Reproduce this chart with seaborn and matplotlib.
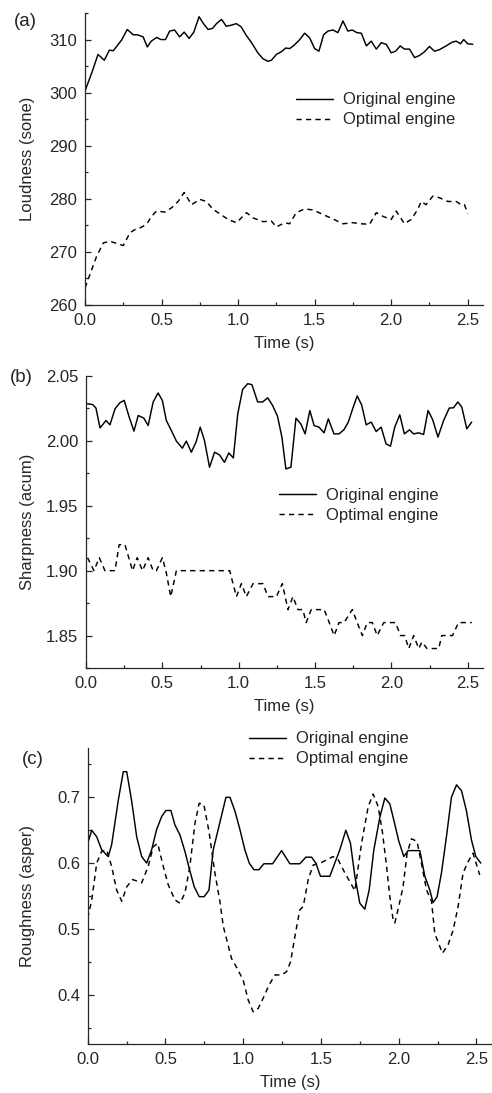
import numpy as np
import pandas as pd
import matplotlib
matplotlib.use("Agg")
import matplotlib.pyplot as plt
from matplotlib.ticker import MultipleLocator, FormatStrFormatter
import seaborn as sns

# ---------------- data ----------------
t_a_orig = [0.0, 0.05, 0.085, 0.126, 0.159, 0.185, 0.239, 0.276, 0.315, 0.343, 0.38, 0.407, 0.433, 0.468,
            0.496, 0.526, 0.553, 0.585, 0.618, 0.648, 0.68, 0.711, 0.745, 0.774, 0.804, 0.833, 0.859, 0.892,
            0.923, 0.955, 0.988, 1.02, 1.053, 1.086, 1.129, 1.162, 1.195, 1.218, 1.25, 1.283, 1.311, 1.337,
            1.365, 1.4, 1.435, 1.468, 1.5, 1.528, 1.559, 1.587, 1.62, 1.652, 1.685, 1.717, 1.746, 1.776,
            1.805, 1.838, 1.87, 1.903, 1.935, 1.968, 2.0, 2.029, 2.059, 2.087, 2.12, 2.153, 2.185, 2.218,
            2.25, 2.283, 2.316, 2.359, 2.398, 2.425, 2.453, 2.474, 2.5, 2.533]
loud_orig = [300.3, 304.2, 307.2, 306.1, 308.0, 307.9, 309.9, 311.9, 310.9, 310.9, 310.5, 308.6, 309.7, 310.4,
             310.0, 310.0, 311.6, 311.8, 310.5, 311.4, 310.2, 311.4, 314.3, 313.0, 311.9, 312.1, 313.0, 313.8,
             312.5, 312.7, 313.0, 312.4, 310.8, 309.5, 307.5, 306.4, 305.9, 306.1, 307.2, 307.7, 308.4, 308.3,
             308.9, 309.9, 311.2, 310.3, 308.3, 307.8, 310.9, 311.6, 311.8, 311.3, 313.5, 311.6, 311.8, 311.3,
             311.2, 308.8, 309.7, 308.2, 309.4, 309.1, 307.5, 307.8, 308.8, 308.2, 308.2, 306.6, 307.0, 307.7,
             308.7, 307.8, 308.1, 308.8, 309.5, 309.7, 309.2, 310.0, 309.2, 309.1]

t_a_opt = [0.0, 0.033, 0.076, 0.12, 0.163, 0.207, 0.25, 0.294, 0.326, 0.359, 0.402, 0.435, 0.467, 0.522,
           0.565, 0.608, 0.648, 0.696, 0.75, 0.793, 0.837, 0.88, 0.935, 0.99, 1.055, 1.098, 1.163, 1.218,
           1.25, 1.305, 1.337, 1.38, 1.435, 1.49, 1.543, 1.62, 1.685, 1.75, 1.805, 1.859, 1.903, 1.946,
           2.0, 2.033, 2.087, 2.13, 2.174, 2.196, 2.228, 2.272, 2.316, 2.37, 2.425, 2.457, 2.479, 2.5]
loud_opt = [263.2, 265.8, 269.2, 271.7, 272.0, 271.6, 271.2, 273.6, 274.2, 274.5, 275.2, 276.7, 277.7, 277.5,
            278.3, 279.5, 281.2, 278.9, 279.9, 279.5, 278.0, 277.2, 276.1, 275.5, 277.4, 276.4, 275.7, 275.8,
            274.7, 275.5, 275.3, 277.4, 278.1, 277.9, 277.2, 276.2, 275.3, 275.5, 275.3, 275.2, 277.4, 276.7,
            276.1, 277.7, 275.3, 276.1, 278.0, 279.5, 278.9, 280.5, 280.2, 279.5, 279.5, 278.9, 278.9, 277.2]

t_b_orig = [0.009, 0.044, 0.065, 0.092, 0.131, 0.157, 0.19, 0.222, 0.25, 0.283, 0.314, 0.342, 0.379, 0.407,
            0.44, 0.472, 0.5, 0.526, 0.559, 0.592, 0.631, 0.657, 0.69, 0.722, 0.748, 0.776, 0.809, 0.842,
            0.874, 0.907, 0.935, 0.965, 0.994, 1.026, 1.059, 1.087, 1.124, 1.157, 1.19, 1.222, 1.254, 1.283,
            1.309, 1.342, 1.375, 1.407, 1.435, 1.466, 1.494, 1.526, 1.559, 1.587, 1.624, 1.657, 1.69, 1.718,
            1.748, 1.776, 1.805, 1.835, 1.868, 1.9, 1.933, 1.965, 1.994, 2.022, 2.055, 2.085, 2.118, 2.146,
            2.179, 2.211, 2.24, 2.27, 2.305, 2.342, 2.379, 2.407, 2.435, 2.461, 2.494, 2.526]
sharp_orig = [2.0286, 2.028, 2.0253, 2.010, 2.0157, 2.0124, 2.0247, 2.0294, 2.0312, 2.0183, 2.0075, 2.0196,
              2.0175, 2.0118, 2.030, 2.0369, 2.0312, 2.0157, 2.008, 1.9998, 1.9944, 1.9998, 1.9913, 1.9995,
              2.0106, 2.0002, 1.9797, 1.9913, 1.9892, 1.9835, 1.9907, 1.9869, 2.0209, 2.0397, 2.0441, 2.0433,
              2.030, 2.030, 2.0332, 2.0273, 2.0191, 2.0029, 1.9784, 1.9797, 2.0175, 2.0131, 2.0054, 2.0234,
              2.0118, 2.0106, 2.0062, 2.017, 2.0054, 2.0054, 2.0087, 2.0145, 2.0253, 2.0346, 2.0278, 2.0124,
              2.0145, 2.0072, 2.0106, 1.9977, 1.9959, 2.0106, 2.0201, 2.0054, 2.0085, 2.0054, 2.0062, 2.0049,
              2.0234, 2.0165, 2.0029, 2.0157, 2.0253, 2.0255, 2.030, 2.0261, 2.0093, 2.0145]

t_b_opt = [0.01, 0.052, 0.087, 0.124, 0.19, 0.217, 0.255, 0.305, 0.335, 0.37, 0.407, 0.44, 0.461, 0.5,
           0.523, 0.555, 0.592, 0.941, 0.985, 1.018, 1.05, 1.094, 1.159, 1.192, 1.247, 1.286, 1.323, 1.355,
           1.388, 1.42, 1.442, 1.475, 1.56, 1.593, 1.625, 1.657, 1.69, 1.744, 1.776, 1.81, 1.842, 1.875,
           1.907, 1.95, 1.983, 2.027, 2.06, 2.087, 2.114, 2.146, 2.179, 2.2, 2.233, 2.266, 2.31, 2.33,
           2.4, 2.44, 2.526]
sharp_opt = [1.91, 1.90, 1.91, 1.90, 1.90, 1.92, 1.92, 1.90, 1.91, 1.90, 1.91, 1.90, 1.90, 1.91,
             1.90, 1.88, 1.90, 1.90, 1.88, 1.89, 1.88, 1.89, 1.89, 1.88, 1.88, 1.89, 1.87, 1.88,
             1.87, 1.87, 1.86, 1.87, 1.87, 1.86, 1.85, 1.86, 1.86, 1.87, 1.86, 1.85, 1.86, 1.86,
             1.85, 1.86, 1.86, 1.86, 1.85, 1.85, 1.84, 1.85, 1.84, 1.845, 1.84, 1.84, 1.84, 1.85,
             1.85, 1.86, 1.86]

t_c_orig = [0.0, 0.026, 0.058, 0.09, 0.132, 0.154, 0.197, 0.229, 0.251, 0.283, 0.315, 0.347, 0.379, 0.411,
            0.443, 0.476, 0.503, 0.535, 0.561, 0.593, 0.625, 0.653, 0.685, 0.717, 0.749, 0.78, 0.807, 0.839,
            0.889, 0.915, 0.947, 0.979, 1.011, 1.039, 1.069, 1.101, 1.133, 1.189, 1.247, 1.3, 1.364, 1.403,
            1.44, 1.467, 1.497, 1.557, 1.621, 1.66, 1.69, 1.718, 1.75, 1.782, 1.81, 1.84, 1.879, 1.911,
            1.943, 1.971, 2.001, 2.033, 2.06, 2.136, 2.168, 2.2, 2.221, 2.247, 2.275, 2.307, 2.339, 2.372,
            2.404, 2.436, 2.468, 2.496, 2.528]
rough_orig = [0.630, 0.650, 0.640, 0.620, 0.610, 0.628, 0.696, 0.739, 0.739, 0.694, 0.640, 0.610, 0.600, 0.620,
              0.651, 0.671, 0.680, 0.680, 0.658, 0.643, 0.618, 0.592, 0.564, 0.549, 0.549, 0.559, 0.620, 0.651,
              0.700, 0.700, 0.679, 0.651, 0.620, 0.600, 0.590, 0.590, 0.599, 0.599, 0.619, 0.599, 0.599, 0.609,
              0.609, 0.600, 0.580, 0.580, 0.620, 0.650, 0.630, 0.580, 0.539, 0.530, 0.559, 0.620, 0.670, 0.699,
              0.690, 0.663, 0.633, 0.610, 0.619, 0.619, 0.580, 0.559, 0.540, 0.549, 0.585, 0.640, 0.700, 0.719,
              0.710, 0.679, 0.635, 0.610, 0.600]

t_c_opt = [0.0, 0.026, 0.058, 0.09, 0.122, 0.154, 0.186, 0.219, 0.251, 0.289, 0.347, 0.389, 0.422, 0.45,
           0.486, 0.518, 0.561, 0.593, 0.625, 0.657, 0.69, 0.717, 0.747, 0.78, 0.818, 0.85, 0.872, 0.9,
           0.925, 0.961, 1.0, 1.032, 1.064, 1.096, 1.129, 1.167, 1.204, 1.247, 1.279, 1.305, 1.332, 1.364,
           1.386, 1.418, 1.45, 1.504, 1.578, 1.611, 1.654, 1.69, 1.718, 1.761, 1.804, 1.836, 1.868, 1.896,
           1.922, 1.943, 1.964, 1.975, 2.003, 2.028, 2.054, 2.082, 2.118, 2.146, 2.179, 2.211, 2.232, 2.26,
           2.281, 2.318, 2.35, 2.382, 2.414, 2.446, 2.478, 2.521]
rough_opt = [0.516, 0.544, 0.600, 0.618, 0.620, 0.595, 0.559, 0.542, 0.564, 0.575, 0.570, 0.595, 0.625, 0.630,
             0.595, 0.567, 0.544, 0.539, 0.554, 0.595, 0.661, 0.691, 0.689, 0.648, 0.585, 0.542, 0.504, 0.478,
             0.455, 0.440, 0.422, 0.392, 0.374, 0.379, 0.395, 0.415, 0.430, 0.430, 0.435, 0.450, 0.488, 0.529,
             0.534, 0.575, 0.597, 0.601, 0.610, 0.605, 0.585, 0.570, 0.558, 0.630, 0.686, 0.705, 0.686, 0.646,
             0.595, 0.549, 0.514, 0.509, 0.537, 0.564, 0.615, 0.637, 0.633, 0.600, 0.559, 0.542, 0.493, 0.476,
             0.463, 0.476, 0.498, 0.534, 0.585, 0.602, 0.615, 0.582]

series_labels = ["Original engine", "Optimal engine"]
panel_tags = ["(a)", "(b)", "(c)"]
y_labels = ["Loudness (sone)", "Sharpness (acum)", "Roughness (asper)"]
x_label = "Time (s)"

# ---------------- style ----------------
sns.set_style("ticks")
plt.rcParams["font.family"] = ["Liberation Sans", "DejaVu Sans"]
plt.rcParams["font.size"] = 12
plt.rcParams["axes.linewidth"] = 0.9

FS = 12
W, H = 492, 1093
fig = plt.figure(figsize=(W / 100, H / 100), dpi=100)

boxes = [(85, 483, 13, 305), (86, 483, 376, 668), (87.7, 492, 748, 1044)]
axes = [fig.add_axes([l / W, 1 - b / H, (r - l) / W, (b - t) / H]) for (l, r, t, b) in boxes]

panels = [
    (t_a_orig, loud_orig, t_a_opt, loud_opt, (260, 315), 10, 5, "%d"),
    (t_b_orig, sharp_orig, t_b_opt, sharp_opt, (1.825, 2.05), 0.05, 0.025, "%.2f"),
    (t_c_orig, rough_orig, t_c_opt, rough_opt, (0.325, 0.775), 0.1, 0.05, "%.1f"),
]
dash = (0, (3.6, 2.9))
legend_anchor = [(0.947, 0.668), (0.904, 0.558), (0.81, 0.997)]
label_pos = [(25, 22), (21, 378), (33, 759)]
ylabel_x_px = 35

for i, (ax, (xo, yo, xp, yp, ylim, maj, mnr, fmt)) in enumerate(zip(axes, panels)):
    d1 = pd.DataFrame({"t": xo, "v": yo})
    d2 = pd.DataFrame({"t": xp, "v": yp})
    sns.lineplot(data=d1, x="t", y="v", ax=ax, color="black", lw=1.05, estimator=None,
                 label=series_labels[0])
    sns.lineplot(data=d2, x="t", y="v", ax=ax, color="black", lw=1.05, estimator=None,
                 linestyle=dash, label=series_labels[1])
    ax.set_xlim(0, 2.6)
    ax.set_ylim(*ylim)
    ax.xaxis.set_major_locator(MultipleLocator(0.5))
    ax.xaxis.set_minor_locator(MultipleLocator(0.25))
    ax.yaxis.set_major_locator(MultipleLocator(maj))
    ax.yaxis.set_minor_locator(MultipleLocator(mnr))
    ax.yaxis.set_major_formatter(FormatStrFormatter(fmt))
    ax.xaxis.set_major_formatter(FormatStrFormatter("%.1f"))
    ax.tick_params(which="major", direction="in", length=4, width=0.9, labelsize=FS, pad=5.5)
    ax.tick_params(which="minor", direction="in", length=2.2, width=0.9)
    sns.despine(ax=ax)
    ax.set_xlabel(x_label, fontsize=FS, labelpad=6)
    ax.set_ylabel(y_labels[i], fontsize=FS)
    l, r, t, b = boxes[i]
    ax.yaxis.set_label_coords((ylabel_x_px - l) / (r - l), 0.5)
    ax.legend(loc="center right", bbox_to_anchor=legend_anchor[i], frameon=False,
              fontsize=FS, handlelength=2.2, handletextpad=0.6, labelspacing=0.3,
              borderaxespad=0)
    fig.text(label_pos[i][0] / W, 1 - label_pos[i][1] / H, panel_tags[i], fontsize=13.5,
             ha="center", va="center")

fig.savefig("out.png", dpi=100)
